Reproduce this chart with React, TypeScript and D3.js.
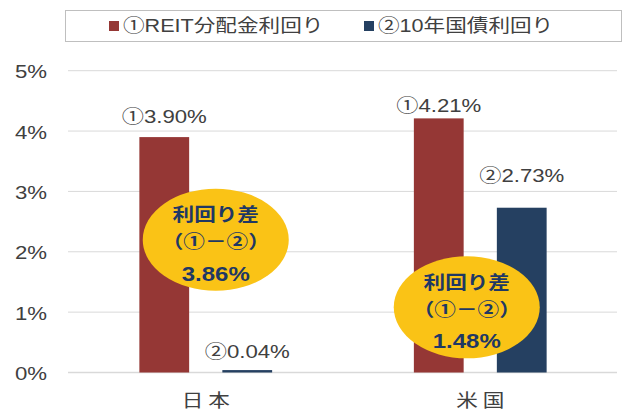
import React from "react";
import * as d3 from "d3";

const categories = ["日 本", "米 国"];
const seriesNames = ["①REIT分配金利回り", "②10年国債利回り"];
const seriesPrefix = ["①", "②"];
const reitYield = [3.9, 4.21];
const bondYield = [0.04, 2.73];
const spread = [3.86, 1.48];
const yTicks = [0, 1, 2, 3, 4, 5];
const colors = ["#953735", "#254061"];

const W = 629;
const H = 412;
const FONT = "'Liberation Sans', Arial, 'Noto Sans CJK JP', sans-serif";
const CJK = "'Noto Sans CJK JP', 'Liberation Sans', sans-serif";
const SX = 1.2; // horizontal stretch seen in the original rendering

function T(props: {
  x: number;
  y: number;
  anchor?: "start" | "middle" | "end";
  size: number;
  fill: string;
  family?: string;
  bold?: boolean;
  children: React.ReactNode;
}) {
  return (
    <text
      transform={`translate(${props.x},${props.y}) scale(${SX},1)`}
      dy="0.35em"
      textAnchor={props.anchor || "start"}
      fontFamily={props.family || FONT}
      fontSize={props.size}
      fontWeight={props.bold ? "bold" : "normal"}
      fill={props.fill}
    >
      {props.children}
    </text>
  );
}

export default function App() {
  const x0 = d3.scaleBand<string>().domain(categories).range([68.5, 617.5]).padding(0);
  const x1 = d3
    .scaleBand<number>()
    .domain([0, 1])
    .range([0, x0.bandwidth()])
    .paddingInner(0.4)
    .paddingOuter(0.854);
  const y = d3.scaleLinear().domain([0, 5]).range([372.5, 70.7]);
  const series = [reitYield, bondYield];
  const labelOffsets = [
    [21, 13],
    [19, 32],
  ];
  const ellipseOffsets = [
    { dx: 10, cy: 2.2 },
    { dx: -13.5, cy: 1.08 },
  ];

  return (
    <svg
      width={W}
      height={H}
      style={{ position: "absolute", left: 0, top: 0, background: "#fff" }}
    >
      <rect x={0} y={0} width={W} height={H} fill="#fff" />
      {yTicks.map((t) => (
        <line
          key={t}
          x1={68}
          x2={617}
          y1={y(t)}
          y2={y(t)}
          stroke="#d9d9d9"
          strokeWidth={t === 0 ? 1.5 : 1}
        />
      ))}
      {yTicks.map((t) => (
        <T key={"l" + t} x={47} y={y(t) + 1} anchor="end" size={18.5} fill="#404040">
          {t}%
        </T>
      ))}
      {series.map((vals, si) =>
        categories.map((c, ci) => (
          <rect
            key={si + "-" + ci}
            x={(x0(c) as number) + (x1(si) as number)}
            y={y(vals[ci])}
            width={x1.bandwidth()}
            height={y(0) - y(vals[ci])}
            fill={colors[si]}
          />
        ))
      )}
      {series.map((vals, si) =>
        categories.map((c, ci) => (
          <T
            key={"d" + si + "-" + ci}
            x={(x0(c) as number) + (x1(si) as number) + x1.bandwidth() / 2}
            y={y(vals[ci]) - labelOffsets[si][ci]}
            anchor="middle"
            size={18.5}
            fill="#404040"
          >
            {seriesPrefix[si] + vals[ci].toFixed(2) + "%"}
          </T>
        ))
      )}
      {categories.map((c, ci) => {
        const cx = (x0(c) as number) + x0.bandwidth() / 2 + ellipseOffsets[ci].dx;
        const cy = y(ellipseOffsets[ci].cy);
        return (
          <g key={"e" + ci}>
            <ellipse cx={cx} cy={cy} rx={73} ry={51} fill="#FAC316" />
            <T x={cx} y={cy - 25} anchor="middle" family={CJK} bold size={18} fill="#1F3864">
              利回り差
            </T>
            <T x={cx} y={cy + 2} anchor="middle" family={CJK} bold size={18} fill="#1F3864">
              （①－②）
            </T>
            <T x={cx} y={cy + 34} anchor="middle" bold size={20} fill="#1F3864">
              {spread[ci].toFixed(2) + "%"}
            </T>
          </g>
        );
      })}
      {categories.map((c) => (
        <T
          key={"c" + c}
          x={(x0(c) as number) + x0.bandwidth() / 2}
          y={401}
          anchor="middle"
          family={CJK}
          size={18}
          fill="#404040"
        >
          {c}
        </T>
      ))}
      <rect x={65.5} y={10.5} width={556} height={31} fill="#fff" stroke="#bfbfbf" strokeWidth={1} />
      {seriesNames.map((s, i) => {
        const lx = i === 0 ? 109 : 364;
        return (
          <g key={"lg" + i}>
            <rect x={lx} y={21} width={10} height={10} fill={colors[i]} />
            <T x={lx + 14} y={26} size={18} fill="#404040">
              {s}
            </T>
          </g>
        );
      })}
    </svg>
  );
}
